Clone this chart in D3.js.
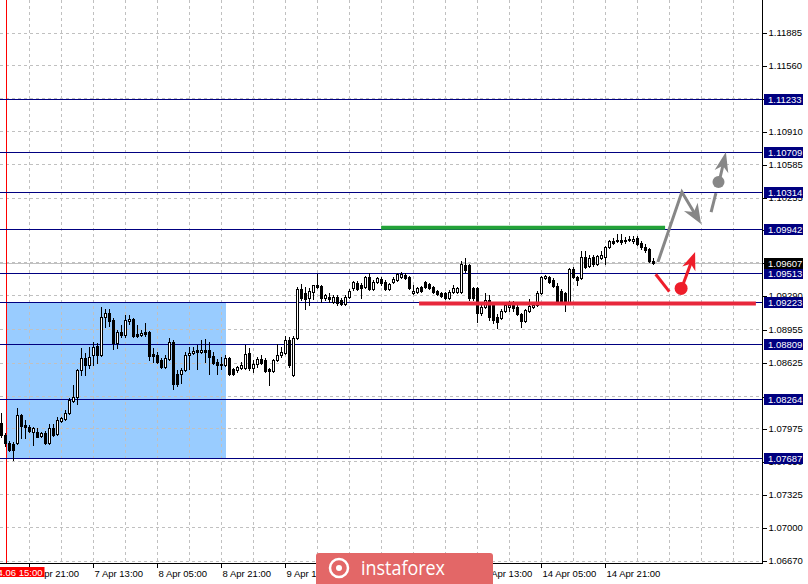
<!DOCTYPE html>
<html><head><meta charset="utf-8">
<script src="https://cdn.jsdelivr.net/npm/d3@7"></script>
<style>body{margin:0;background:#fff;overflow:hidden}svg{display:block}</style>
</head><body><svg id="c" width="808" height="584"></svg>
<script>
// ---- DATA (EURUSD H1, bar index 0 = 2020.04.06 14:00) ----
const open = [1.08027,1.07912,1.07832,1.07822,1.07832,1.08107,1.08007,1.07987,1.07942,1.07942,
1.07902,1.07932,1.07832,1.07977,1.07922,1.08047,1.08067,1.08127,1.08247,1.08287,
1.08552,1.08672,1.08602,1.08702,1.08786,1.08702,1.09076,1.09116,1.09046,1.08816,
1.08926,1.08896,1.09036,1.09056,1.08906,1.08896,1.08926,1.08926,1.08712,1.08702,
1.08652,1.08582,1.08662,1.08826,1.08512,1.08512,1.08552,1.08702,1.08722,1.08752,
1.08732,1.08752,1.08752,1.08692,1.08632,1.08602,1.08602,1.08672,1.08562,1.08552,
1.08572,1.08572,1.08722,1.08572,1.08612,1.08662,1.08652,1.08562,1.08542,1.08652,
1.08702,1.08722,1.08846,1.08502,1.08866,1.09352,1.09312,1.09262,1.09322,1.09392,
1.09382,1.09262,1.09272,1.09222,1.09272,1.09242,1.09202,1.09272,1.09362,1.09412,
1.09392,1.09372,1.09472,1.09352,1.09422,1.09452,1.09422,1.09352,1.09422,1.09442,
1.09472,1.09492,1.09472,1.09312,1.09322,1.09372,1.09422,1.09402,1.09372,1.09332,
1.09312,1.09312,1.09262,1.09322,1.09322,1.09322,1.09587,1.09587,1.09362,1.09362,
1.09116,1.09172,1.09242,1.09192,1.09076,1.09066,1.09136,1.09172,1.09192,1.09172,
1.09106,1.09036,1.09136,1.09172,1.09192,1.09312,1.09462,1.09472,1.09442,1.09382,
1.09332,1.09312,1.09222,1.09547,1.09472,1.09462,1.09667,1.09577,1.09667,1.09597,
1.09657,1.09667,1.09767,1.09827,1.09827,1.09837,1.09827,1.09837,1.09827,1.09857,
1.09807,1.09767,1.09747,1.09627];
const high = [1.08127,1.07932,1.07852,1.07842,1.08177,1.08117,1.08057,1.08007,1.07987,1.07977,
1.07942,1.07952,1.08017,1.08017,1.08087,1.08087,1.08157,1.08277,1.08402,1.08562,
1.08766,1.08722,1.08776,1.08826,1.08816,1.09172,1.09152,1.09152,1.09066,1.08946,
1.08996,1.09096,1.09096,1.09066,1.08996,1.08946,1.09016,1.08936,1.08766,1.08732,
1.08672,1.08702,1.08866,1.08846,1.08552,1.08572,1.08732,1.08776,1.08776,1.08796,
1.08846,1.08856,1.08826,1.08732,1.08662,1.08682,1.08702,1.08682,1.08572,1.08592,
1.08632,1.08796,1.08766,1.08652,1.08682,1.08702,1.08672,1.08572,1.08662,1.08806,
1.08776,1.08886,1.08876,1.08886,1.09372,1.09402,1.09372,1.09362,1.09392,1.09502,
1.09392,1.09302,1.09312,1.09292,1.09292,1.09262,1.09292,1.09352,1.09432,1.09432,
1.09412,1.09482,1.09512,1.09442,1.09472,1.09472,1.09442,1.09412,1.09472,1.09512,
1.09522,1.09512,1.09482,1.09392,1.09372,1.09382,1.09432,1.09412,1.09382,1.09342,
1.09322,1.09322,1.09342,1.09392,1.09372,1.09627,1.09657,1.09597,1.09372,1.09372,
1.09222,1.09312,1.09292,1.09212,1.09106,1.09156,1.09212,1.09232,1.09232,1.09192,
1.09116,1.09152,1.09252,1.09212,1.09332,1.09482,1.09492,1.09482,1.09462,1.09412,
1.09352,1.09322,1.09557,1.09567,1.09482,1.09727,1.09727,1.09687,1.09687,1.09687,
1.09727,1.09777,1.09837,1.09857,1.09897,1.09897,1.09867,1.09877,1.09877,1.09877,
1.09827,1.09797,1.09757,1.09657];
const low = [1.07892,1.07802,1.07752,1.07662,1.07822,1.07882,1.07882,1.07942,1.07812,1.07892,
1.07892,1.07822,1.07822,1.07902,1.07912,1.08037,1.08057,1.08117,1.08237,1.08217,
1.08502,1.08502,1.08572,1.08602,1.08622,1.08692,1.08976,1.08986,1.08756,1.08766,
1.08876,1.08876,1.09006,1.08876,1.08876,1.08886,1.08886,1.08652,1.08632,1.08622,
1.08572,1.08572,1.08652,1.08362,1.08392,1.08422,1.08542,1.08562,1.08712,1.08562,
1.08722,1.08632,1.08512,1.08612,1.08512,1.08562,1.08592,1.08502,1.08502,1.08532,
1.08562,1.08562,1.08552,1.08532,1.08582,1.08612,1.08532,1.08402,1.08532,1.08642,
1.08682,1.08712,1.08582,1.08492,1.08856,1.09242,1.09152,1.09192,1.09252,1.09362,
1.09222,1.09242,1.09222,1.09212,1.09192,1.09192,1.09192,1.09262,1.09342,1.09342,
1.09262,1.09362,1.09342,1.09342,1.09412,1.09392,1.09342,1.09342,1.09412,1.09432,
1.09462,1.09452,1.09352,1.09302,1.09312,1.09322,1.09362,1.09352,1.09312,1.09292,
1.09272,1.09252,1.09252,1.09312,1.09312,1.09312,1.09522,1.09242,1.09242,1.09026,
1.09096,1.09162,1.09046,1.09016,1.08966,1.09056,1.09126,1.09136,1.09136,1.09096,
1.08976,1.09026,1.09126,1.09162,1.09182,1.09302,1.09452,1.09412,1.09372,1.09222,
1.09212,1.09136,1.09212,1.09462,1.09392,1.09452,1.09557,1.09567,1.09577,1.09587,
1.09647,1.09597,1.09757,1.09797,1.09817,1.09797,1.09807,1.09827,1.09807,1.09787,
1.09747,1.09717,1.09617,1.09597];
const close = [1.07912,1.07832,1.07762,1.07762,1.08107,1.07997,1.07987,1.07952,1.07977,1.07892,
1.07932,1.07832,1.07977,1.07912,1.08057,1.08077,1.08127,1.08257,1.08287,1.08552,
1.08672,1.08602,1.08682,1.08776,1.08702,1.09076,1.09116,1.09036,1.08816,1.08926,
1.08896,1.09046,1.09056,1.08886,1.08886,1.08916,1.08906,1.08692,1.08692,1.08632,
1.08582,1.08672,1.08826,1.08412,1.08412,1.08552,1.08702,1.08722,1.08742,1.08732,
1.08752,1.08732,1.08682,1.08622,1.08602,1.08612,1.08672,1.08512,1.08512,1.08582,
1.08602,1.08712,1.08572,1.08612,1.08662,1.08622,1.08542,1.08542,1.08652,1.08702,
1.08732,1.08846,1.08602,1.08866,1.09352,1.09262,1.09252,1.09332,1.09392,1.09372,
1.09262,1.09292,1.09252,1.09272,1.09212,1.09202,1.09272,1.09332,1.09422,1.09352,
1.09362,1.09472,1.09352,1.09422,1.09462,1.09412,1.09352,1.09402,1.09452,1.09502,
1.09502,1.09462,1.09362,1.09332,1.09362,1.09332,1.09372,1.09362,1.09322,1.09302,
1.09282,1.09262,1.09322,1.09362,1.09362,1.09597,1.09542,1.09262,1.09262,1.09116,
1.09172,1.09242,1.09076,1.09046,1.09026,1.09136,1.09192,1.09192,1.09162,1.09106,
1.09036,1.09146,1.09182,1.09192,1.09312,1.09472,1.09482,1.09422,1.09382,1.09232,
1.09222,1.09222,1.09547,1.09472,1.09442,1.09667,1.09567,1.09657,1.09597,1.09677,
1.09687,1.09767,1.09827,1.09807,1.09837,1.09817,1.09837,1.09847,1.09847,1.09797,
1.09767,1.09737,1.09627,1.09607];

const timeLabels = ["6 Apr 21:00","7 Apr 13:00","8 Apr 05:00","8 Apr 21:00","9 Apr 13:00",
  "10 Apr 05:00","10 Apr 21:00","13 Apr 13:00","14 Apr 05:00","14 Apr 21:00"];
const timeLabelBars = [7,23,39,55,71,87,103,119,135,151];
const separatorBar = 1, separatorLabel = "2020.04.06 15:00";
const priceTicks = [1.06670,1.07000,1.07325,1.07650,1.07975,1.08290,1.08625,1.08955,1.09290,
  1.09615,1.09940,1.10255,1.10585,1.10910,1.11235,1.11560,1.11885];
const levels = [1.11233,1.10709,1.10314,1.09942,1.09513,1.09223,1.08809,1.08264,1.07687];
const currentPrice = 1.09607;
const zoneBars = [1.25, 55.9], zonePrices = [1.09223, 1.07687];
const greenBars = [94.9, 165.9], greenPrice = 1.09957;
const redBars = [104.4, 188.6], redPrice = 1.09208;
const grayPath = [[164.1,1.09618],[170.1,1.10309],[174.9,1.09993]];
const graySeg = [[177.4,1.10111],[178.6,1.10298]];
const grayDot = [179.25,1.10408];
const grayArrow = [[179.4,1.10408],[181.1,1.10704]];
const redSeg = [[163.55,1.09497],[166.95,1.09325]];
const redDot = [169.9,1.09357];
const redArrow = [[170.0,1.09357],[173.4,1.09717]];

// ---- LAYOUT ----
const W = 808, H = 584, plotR = 762, plotB = 563;
const FONT = "'Liberation Sans', Arial, sans-serif";
const svg = d3.select('#c');
const x = d3.scaleLinear().domain([-0.375, 190.125]).range([0, plotR]);
const y = d3.scaleLinear().domain([1.06670, 1.11885]).range([560.5, 32.5]);
const px = v => Math.round(v) + 0.5;

svg.append('rect').attr('width', W).attr('height', H).attr('fill', '#fff');

svg.append('rect')
  .attr('x', Math.round(x(zoneBars[0]))).attr('y', Math.round(y(zonePrices[0])))
  .attr('width', Math.round(x(zoneBars[1]) - x(zoneBars[0])))
  .attr('height', Math.round(y(zonePrices[1]) - y(zonePrices[0])))
  .attr('fill', '#99ccff');

const grid = svg.append('g').attr('stroke', '#c0c0c0').attr('stroke-dasharray', '3,3').attr('shape-rendering', 'crispEdges');
const gridBars = d3.range(7, 190, 8);
grid.selectAll('line.v').data(gridBars).join('line')
  .attr('x1', d => px(x(d) - 0.5)).attr('x2', d => px(x(d) - 0.5)).attr('y1', 0).attr('y2', plotB);
grid.selectAll('line.h').data(priceTicks).join('line')
  .attr('x1', 0).attr('x2', plotR).attr('y1', d => px(y(d))).attr('y2', d => px(y(d)));

svg.append('line').attr('x1', 0).attr('x2', plotR)
  .attr('y1', px(y(currentPrice))).attr('y2', px(y(currentPrice)))
  .attr('stroke', '#c0c0c0').attr('shape-rendering', 'crispEdges');

svg.append('line').attr('x1', px(x(separatorBar))).attr('x2', px(x(separatorBar)))
  .attr('y1', 0).attr('y2', plotB).attr('stroke', '#ff0000').attr('shape-rendering', 'crispEdges');

svg.append('g').selectAll('line').data(levels).join('line')
  .attr('x1', 0).attr('x2', plotR).attr('y1', d => px(y(d))).attr('y2', d => px(y(d)))
  .attr('stroke', '#000080').attr('shape-rendering', 'crispEdges');

const cg = svg.append('g').attr('shape-rendering', 'crispEdges');
open.forEach((o, i) => {
  const c = close[i];
  const cx = Math.floor(x(i)) + 0.5;
  const yH = Math.round(y(high[i])), yL = Math.round(y(low[i]));
  const yO = Math.round(y(o)), yC = Math.round(y(c));
  cg.append('line').attr('x1', cx).attr('x2', cx).attr('y1', yH).attr('y2', yL + 1).attr('stroke', '#000');
  const top = Math.min(yO, yC), bot = Math.max(yO, yC);
  if (c > o && bot - top >= 2) {
    cg.append('rect').attr('x', cx - 1).attr('y', top + 0.5).attr('width', 2).attr('height', bot - top)
      .attr('fill', '#fff').attr('stroke', '#000');
  } else {
    cg.append('rect').attr('x', cx - 1.5).attr('y', top).attr('width', 3).attr('height', bot - top + 1)
      .attr('fill', '#000');
  }
});

svg.append('line').attr('x1', x(greenBars[0])).attr('x2', x(greenBars[1]))
  .attr('y1', y(greenPrice)).attr('y2', y(greenPrice)).attr('stroke', '#23a338').attr('stroke-width', 4);
svg.append('line').attr('x1', x(redBars[0])).attr('x2', x(redBars[1]))
  .attr('y1', y(redPrice)).attr('y2', y(redPrice)).attr('stroke', '#e8283c').attr('stroke-width', 4);

const P = d => [x(d[0]), y(d[1])];
function arrowHead(p0, p1, color, len, hw) {
  const dx = p1[0] - p0[0], dy = p1[1] - p0[1], L = Math.hypot(dx, dy), ux = dx / L, uy = dy / L;
  const bx = p1[0] - ux * len, by = p1[1] - uy * len;
  const nx = p1[0] - ux * len * 0.7, ny = p1[1] - uy * len * 0.7;
  svg.append('path').attr('d', `M${p1[0]},${p1[1]}L${bx - uy * hw},${by + ux * hw}L${nx},${ny}L${bx + uy * hw},${by - ux * hw}Z`)
    .attr('fill', color);
  return [nx + ux, ny + uy];
}
function seg(pts, color, w) {
  svg.append('path').attr('d', d3.line()(pts)).attr('fill', 'none').attr('stroke', color)
    .attr('stroke-width', w).attr('stroke-linejoin', 'miter');
}
{
  const pts = grayPath.map(P);
  const end = arrowHead(pts[1], pts[2], '#878787', 20, 8);
  seg([pts[0], pts[1], end], '#878787', 3);
  seg(graySeg.map(P), '#878787', 3);
  svg.append('circle').attr('cx', P(grayDot)[0]).attr('cy', P(grayDot)[1]).attr('r', 6).attr('fill', '#878787');
  const ap = grayArrow.map(P);
  const e2 = arrowHead(ap[0], ap[1], '#878787', 20, 7);
  seg([ap[0], e2], '#878787', 3);
}
{
  seg(redSeg.map(P), '#ee1d2a', 3);
  svg.append('circle').attr('cx', P(redDot)[0]).attr('cy', P(redDot)[1]).attr('r', 6.5).attr('fill', '#ee1d2a');
  const ap = redArrow.map(P);
  const e = arrowHead(ap[0], ap[1], '#ee1d2a', 18, 7);
  seg([ap[0], e], '#ee1d2a', 3);
}

svg.append('line').attr('x1', px(plotR)).attr('x2', px(plotR)).attr('y1', 0).attr('y2', plotB + 1)
  .attr('stroke', '#000').attr('shape-rendering', 'crispEdges');
svg.append('line').attr('x1', 0).attr('x2', plotR + 1).attr('y1', px(plotB)).attr('y2', px(plotB))
  .attr('stroke', '#000').attr('shape-rendering', 'crispEdges');

const ya = svg.append('g').attr('transform', `translate(${px(plotR)},0)`)
  .call(d3.axisRight(y).tickValues(priceTicks).tickFormat(d3.format('.5f')).tickSize(4).tickPadding(2));
ya.select('.domain').remove();
ya.selectAll('line').attr('shape-rendering', 'crispEdges').attr('transform', 'translate(0,0.5)');
ya.selectAll('text').attr('font-family', FONT).attr('font-size', 9.5).attr('fill', '#000');

const xa = svg.append('g').attr('transform', `translate(0,${px(plotB)})`)
  .call(d3.axisBottom(x).tickValues(timeLabelBars).tickFormat((d, i) => timeLabels[i]).tickSize(4).tickPadding(3));
xa.select('.domain').remove();
xa.selectAll('.tick').attr('transform', d => `translate(${px(x(d) - 0.5)},0)`);
xa.selectAll('line').attr('shape-rendering', 'crispEdges');
xa.selectAll('text').attr('font-family', FONT).attr('font-size', 9.5).attr('fill', '#000')
  .attr('text-anchor', 'start').attr('x', 1);

const lab = svg.append('g');
levels.forEach(v => {
  const yy = Math.round(y(v));
  lab.append('rect').attr('x', 764).attr('y', yy - 5).attr('width', 39).attr('height', 11).attr('fill', '#000080');
  lab.append('text').attr('x', 768).attr('y', yy + 0.5).attr('dy', '0.35em').text(v.toFixed(5))
    .attr('font-family', FONT).attr('font-size', 9.5).attr('fill', '#fff');
});
{
  const yy = Math.round(y(currentPrice));
  lab.append('rect').attr('x', 764).attr('y', yy - 5).attr('width', 39).attr('height', 11).attr('fill', '#000');
  lab.append('text').attr('x', 768).attr('y', yy + 0.5).attr('dy', '0.35em').text(currentPrice.toFixed(5))
    .attr('font-family', FONT).attr('font-size', 9.5).attr('fill', '#fff');
}
{
  const sx = x(separatorBar);
  svg.append('rect').attr('x', sx - 39).attr('y', 567).attr('width', 78).attr('height', 10).attr('fill', '#ff0000');
  svg.append('text').attr('x', sx).attr('y', 575.5).attr('text-anchor', 'middle').text(separatorLabel)
    .attr('font-family', FONT).attr('font-size', 9.5).attr('fill', '#fff');
}

{
  const lg = svg.append('g');
  lg.append('rect').attr('x', 316).attr('y', 553).attr('width', 177).attr('height', 34).attr('rx', 3).attr('fill', '#e36767');
  lg.append('circle').attr('cx', 339).attr('cy', 568).attr('r', 9).attr('fill', 'none').attr('stroke', '#fff').attr('stroke-width', 2.5);
  lg.append('circle').attr('cx', 339).attr('cy', 568).attr('r', 3).attr('fill', '#fff');
  lg.append('text').attr('x', 361).attr('y', 575).text('instaforex').attr('font-family', "'Open Sans', sans-serif")
    .attr('font-size', 20).attr('fill', '#fff').attr('textLength', 84).attr('lengthAdjust', 'spacingAndGlyphs');
}
</script></body></html>
